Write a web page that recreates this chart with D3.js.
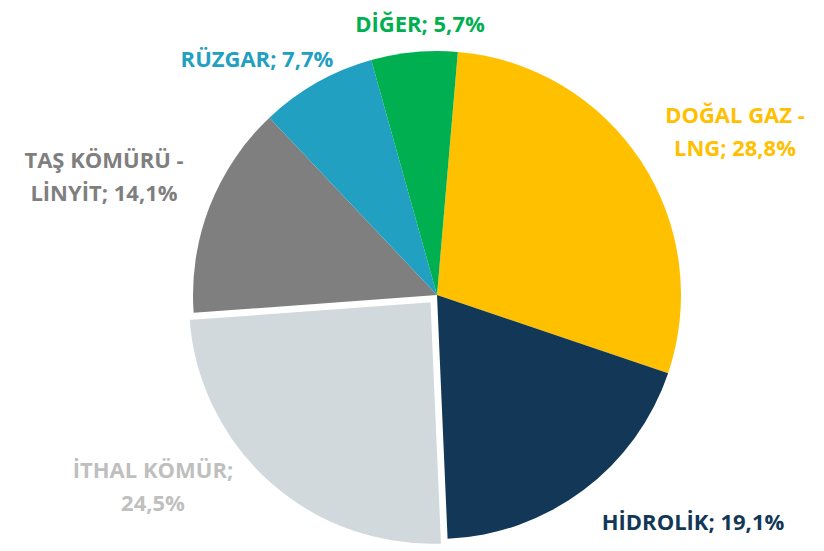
<!DOCTYPE html>
<html><head><meta charset="utf-8">
<script src="https://cdn.jsdelivr.net/npm/d3@7"></script>
<style>html,body{margin:0;padding:0;background:#fff;}</style>
</head><body>
<svg id="c" width="824" height="551"></svg>
<script>
const categories = ["DOĞAL GAZ - LNG", "HİDROLİK", "İTHAL KÖMÜR", "TAŞ KÖMÜRÜ - LİNYİT", "RÜZGAR", "DİĞER"];
const values = [28.8, 19.1, 24.5, 14.1, 7.7, 5.7];
const valueLabels = ["28,8%", "19,1%", "24,5%", "14,1%", "7,7%", "5,7%"];
const colors = ["#FFC000", "#133756", "#D1D9DC", "#7F7F7F", "#21A0C1", "#00B050"];
const labelColors = ["#FFC000", "#133756", "#BFBFBF", "#7F7F7F", "#21A0C1", "#00B050"];
const labelLines = [["DOĞAL GAZ -", "LNG; 28,8%"], ["HİDROLİK; 19,1%"], ["İTHAL KÖMÜR;", "24,5%"], ["TAŞ KÖMÜRÜ -", "LİNYİT; 14,1%"], ["RÜZGAR; 7,7%"], ["DİĞER; 5,7%"]];
const labelPos = [[735,123],[693,530],[153,478],[104,168],[257,67],[420,32]];
const exploded = [false,false,true,false,false,false];

const svg = d3.select("#c");
const cx = 437, cy = 295, r = 244;
const start = 4.9 * Math.PI/180;
const pie = d3.pie().sort(null).value(d=>d).startAngle(start).endAngle(start + 2*Math.PI);
const arcs = pie(values);
const arc = d3.arc().innerRadius(0).outerRadius(r);
const g = svg.append("g").attr("transform", `translate(${cx},${cy})`);
g.selectAll("path").data(arcs).join("path")
  .attr("d", arc)
  .attr("fill", (d,i)=>colors[i])
  .attr("stroke", (d,i)=>exploded[i] ? "#fff" : "none")
  .attr("stroke-width", 2.5)
  .attr("transform", (d,i)=>{
    if(!exploded[i]) return null;
    const m = (d.startAngle + d.endAngle)/2;
    const off = 8;
    return `translate(${off*Math.sin(m)},${-off*Math.cos(m)})`;
  });

labelLines.forEach((lines,i)=>{
  const t = svg.append("text")
    .attr("x", labelPos[i][0]).attr("y", labelPos[i][1])
    .attr("text-anchor","middle")
    .attr("fill", labelColors[i])
    .style("font-family","'Open Sans', Lato, sans-serif")
    .style("font-weight","bold")
    .style("font-size","22px");
  lines.forEach((l,j)=>{
    t.append("tspan").attr("x", labelPos[i][0]).attr("dy", j===0?0:33).text(l);
  });
});
</script>
</body></html>
